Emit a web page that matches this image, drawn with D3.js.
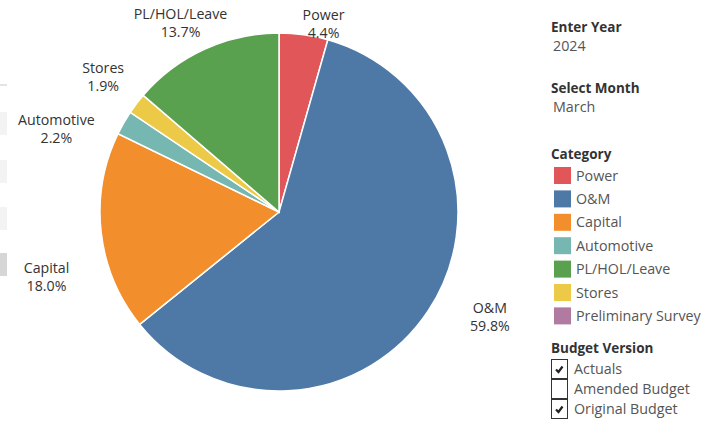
<!DOCTYPE html>
<head>
  <meta charset="utf-8">
  <title>Category share</title>
  <style>
    body { margin: 0; background: #fff; }
    svg text { font-family: "Open Sans", "Noto Sans", sans-serif; }
    .slice { stroke: #fff; stroke-width: 1.5px; }
    .lbl { font-size: 14.2px; fill: #333; text-anchor: middle; }
    .ttl { font-size: 13.5px; font-weight: bold; fill: #333; }
    .itm { font-size: 14.3px; fill: #555; }
  </style>
</head>
<body>
  <div id="chart"></div>
  <script src="https://cdnjs.cloudflare.com/ajax/libs/d3/7.8.5/d3.min.js"></script>
  <script>
    // pie order, clockwise from 12 o'clock
    var categories = ["Power", "O&M", "Capital", "Automotive", "Stores", "PL/HOL/Leave"];
    var shares = [4.4, 59.8, 18.0, 2.2, 1.9, 13.7];

    // legend order
    var legendItems = ["Power", "O&M", "Capital", "Automotive", "PL/HOL/Leave", "Stores", "Preliminary Survey"];
    var legendColors = ["#e15759", "#4e79a7", "#f28e2b", "#76b7b2", "#59a14f", "#edc948", "#b07aa1"];

    var filterTitles = ["Enter Year", "Select Month"];
    var filterValues = ["2024", "March"];
    var versions = ["Actuals", "Amended Budget", "Original Budget"];
    var versionChecked = [true, false, true];

    var width = 723, height = 422;
    var cx = 279, cy = 212, radius = 179;

    var svg = d3.select("#chart").append("svg")
        .attr("width", width)
        .attr("height", height);

    // faint remnants of a cut-off panel on the left edge
    var strip = svg.append("g");
    strip.append("rect").attr("x", 0).attr("y", 84).attr("width", 7).attr("height", 2).attr("fill", "#e4e4e4");
    [[112, "#f3f3f3"], [160, "#f3f3f3"], [207, "#f3f3f3"], [253, "#d6d6d6"]].forEach(function(s) {
      strip.append("rect").attr("x", 0).attr("y", s[0]).attr("width", 7).attr("height", 23).attr("fill", s[1]);
    });

    var color = d3.scaleOrdinal().domain(legendItems).range(legendColors);

    var pie = d3.pie().sort(null).value(function(d) { return d.value; });
    var arc = d3.arc().innerRadius(0).outerRadius(radius);

    var data = categories.map(function(c, i) { return { name: c, value: shares[i] }; });
    var arcs = pie(data);

    var g = svg.append("g").attr("transform", "translate(" + cx + "," + cy + ")");

    g.selectAll(".slice")
      .data(arcs)
      .enter().append("path")
      .attr("class", "slice")
      .attr("d", arc)
      .attr("fill", function(d) { return color(d.data.name); });

    // labels sit on an ellipse around the pie, at each slice's mid angle
    var rx = 236, ry = 190;
    var nudge = { "Power": [12, 0], "O&M": [14, 0], "Capital": [2, 44], "Automotive": [-18, 12], "Stores": [12, -20], "PL/HOL/Leave": [0, -16] };
    var lab = g.selectAll(".lblg")
      .data(arcs)
      .enter().append("text")
      .attr("class", "lbl")
      .attr("transform", function(d) {
        var a = (d.startAngle + d.endAngle) / 2;
        var n = nudge[d.data.name] || [0, 0];
        return "translate(" + (rx * Math.sin(a) + n[0]) + "," + (-ry * Math.cos(a) + n[1]) + ")";
      });
    lab.append("tspan").attr("x", 0).attr("y", -4).text(function(d) { return d.data.name; });
    lab.append("tspan").attr("x", 0).attr("y", 14).text(function(d) { return d3.format(".1f")(d.data.value) + "%"; });

    // right-hand panel
    var px = 551;
    filterTitles.forEach(function(t, i) {
      svg.append("text").attr("class", "ttl").attr("x", px).attr("y", 32 + i * 61).text(t);
      svg.append("text").attr("class", "itm").attr("x", px + 2).attr("y", 51 + i * 61).text(filterValues[i]);
    });

    svg.append("text").attr("class", "ttl").attr("x", px).attr("y", 159).text("Category");
    var leg = svg.selectAll(".leg")
      .data(legendItems)
      .enter().append("g")
      .attr("transform", function(d, i) { return "translate(" + (px + 3) + "," + (167 + i * 23.4) + ")"; });
    leg.append("rect").attr("width", 17).attr("height", 17).attr("fill", function(d) { return color(d); });
    leg.append("text").attr("class", "itm").attr("x", 22).attr("y", 13.5).text(function(d) { return d; });

    svg.append("text").attr("class", "ttl").attr("x", px).attr("y", 353).text("Budget Version");
    var chk = svg.selectAll(".chk")
      .data(versions)
      .enter().append("g")
      .attr("transform", function(d, i) { return "translate(" + px + "," + (359 + i * 20) + ")"; });
    chk.append("rect")
      .attr("x", 0.5).attr("y", 0.5).attr("width", 16).attr("height", 19)
      .attr("fill", "#fff").attr("stroke", "#333").attr("stroke-width", 1);
    chk.filter(function(d, i) { return versionChecked[i]; })
      .append("path")
      .attr("d", "M5,10.5 L7.5,13 L11.5,7.5")
      .attr("fill", "none").attr("stroke", "#222").attr("stroke-width", 2.2);
    chk.append("text").attr("class", "itm").attr("x", 23).attr("y", 14.5).text(function(d) { return d; });
  </script>
</body>
